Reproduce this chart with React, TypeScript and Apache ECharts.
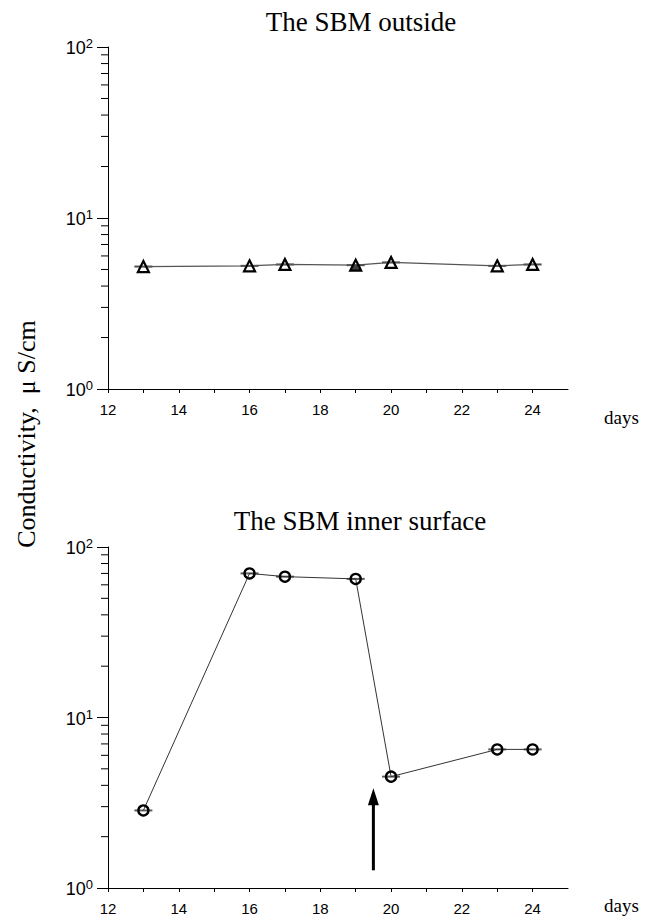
import React, { useEffect, useRef } from 'react';
import * as echarts from 'echarts';

// ---- data ----
const days = [13, 16, 17, 19, 20, 23, 24];
const outsideValues = [5.2, 5.25, 5.35, 5.3, 5.5, 5.25, 5.35];
const innerValues = [2.85, 70, 67, 65, 4.5, 6.5, 6.5];
const outsideExtraSquare = [[19, 5.1]];
const xLabelDays = [12, 14, 16, 18, 20, 22, 24];
const minorTickValues = [2, 3, 4, 5, 6, 7, 8, 9, 20, 30, 40, 50, 60, 70, 80, 90];
const arrowDay = 19.5;
const arrowFrom = 1.27;
const arrowTo = 3.85;
const titleTop = 'The SBM outside';
const titleBottom = 'The SBM inner surface';
const yTitle = 'Conductivity,  \u03BC S/cm';
const xUnit = 'days';

const SANS = '"Liberation Sans", Arial, sans-serif';
const SERIF = '"Liberation Serif", "Times New Roman", serif';

function xAxisOpt(gridIndex: number) {
  return {
    type: 'value',
    gridIndex,
    min: 12,
    max: 25,
    interval: 1,
    axisLine: { show: true, lineStyle: { color: '#000', width: 1 } },
    axisTick: { show: true, length: 4, lineStyle: { color: '#000' } },
    splitLine: { show: false },
    axisLabel: {
      margin: 13,
      color: '#000',
      fontFamily: SANS,
      fontSize: 15,
      showMaxLabel: false,
      formatter: (v: number) => (xLabelDays.indexOf(v) >= 0 ? String(v) : ''),
    },
  };
}

function yAxisOpt(gridIndex: number) {
  return {
    type: 'log',
    logBase: 10,
    gridIndex,
    min: 1,
    max: 100,
    axisLine: { show: true, lineStyle: { color: '#000', width: 1 } },
    axisTick: { show: true, length: 11, lineStyle: { color: '#000' } },
    splitLine: { show: false },
    axisLabel: {
      margin: 15,
      color: '#000',
      formatter: (v: number) => `{b|10}{s|${Math.round(Math.log10(v))}}`,
      rich: {
        b: { fontFamily: SANS, fontSize: 18, color: '#000', lineHeight: 20, verticalAlign: 'bottom' },
        s: { fontFamily: SANS, fontSize: 13, color: '#000', lineHeight: 20, verticalAlign: 'top', padding: [0, 0, 10, 0] },
      },
    },
  };
}

function minorTickSeries(idx: number) {
  return {
    type: 'custom',
    xAxisIndex: idx,
    yAxisIndex: idx,
    silent: true,
    clip: false,
    data: minorTickValues.map((v) => [12, v]),
    encode: { x: 0, y: 1 },
    renderItem: (_p: any, api: any) => {
      const pt = api.coord([api.value(0), api.value(1)]);
      return {
        type: 'line',
        shape: { x1: pt[0] - 7, y1: pt[1], x2: pt[0], y2: pt[1] },
        style: { stroke: '#000', lineWidth: 1 },
      };
    },
  };
}

function barSeries(idx: number, values: number[], color: string) {
  return {
    type: 'scatter',
    xAxisIndex: idx,
    yAxisIndex: idx,
    symbol: 'rect',
    symbolSize: [18, 2],
    itemStyle: { color },
    z: 2,
    silent: true,
    data: days.map((d, i) => [d, values[i]]),
  };
}

export default function App() {
  const ref = useRef<HTMLDivElement>(null);
  useEffect(() => {
    if (!ref.current) return;
    const chart = echarts.init(ref.current, undefined, { renderer: 'svg' });
    chart.setOption({
      animation: false,
      backgroundColor: '#fff',
      grid: [
        { left: 108, top: 47, width: 460, height: 342 },
        { left: 108, top: 547, width: 460, height: 341 },
      ],
      xAxis: [xAxisOpt(0), xAxisOpt(1)],
      yAxis: [yAxisOpt(0), yAxisOpt(1)],
      graphic: [
        { type: 'text', x: 361, y: 22, style: { text: titleTop, font: `27px ${SERIF}`, fill: '#000', align: 'center', verticalAlign: 'middle' } },
        { type: 'text', x: 360, y: 521, style: { text: titleBottom, font: `27px ${SERIF}`, fill: '#000', align: 'center', verticalAlign: 'middle' } },
        { type: 'text', x: 26, y: 434, rotation: Math.PI / 2, style: { text: yTitle, font: `26px ${SERIF}`, fill: '#000', align: 'center', verticalAlign: 'middle' } },
        { type: 'text', x: 604, y: 417, style: { text: xUnit, font: `19px ${SERIF}`, fill: '#000', align: 'left', verticalAlign: 'middle' } },
        { type: 'text', x: 604, y: 905, style: { text: xUnit, font: `19px ${SERIF}`, fill: '#000', align: 'left', verticalAlign: 'middle' } },
      ],
      series: [
        minorTickSeries(0),
        minorTickSeries(1),
        barSeries(0, outsideValues, '#222'),
        barSeries(1, innerValues, '#333'),
        {
          type: 'line',
          xAxisIndex: 0,
          yAxisIndex: 0,
          data: days.map((d, i) => [d, outsideValues[i]]),
          symbol: 'triangle',
          symbolSize: 11,
          showSymbol: true,
          lineStyle: { color: '#555', width: 1.3 },
          itemStyle: { color: 'rgba(0,0,0,0)', borderColor: '#000', borderWidth: 2.2 },
          z: 3,
        },
        {
          type: 'scatter',
          xAxisIndex: 0,
          yAxisIndex: 0,
          data: outsideExtraSquare,
          symbol: 'rect',
          symbolSize: [9, 6],
          itemStyle: { color: '#111' },
          z: 2,
        },
        {
          type: 'line',
          xAxisIndex: 1,
          yAxisIndex: 1,
          data: days.map((d, i) => [d, innerValues[i]]),
          symbol: 'circle',
          symbolSize: 10,
          showSymbol: true,
          lineStyle: { color: '#333', width: 1 },
          itemStyle: { color: 'rgba(0,0,0,0)', borderColor: '#000', borderWidth: 2.4 },
          z: 3,
        },
        {
          type: 'custom',
          xAxisIndex: 1,
          yAxisIndex: 1,
          silent: true,
          clip: false,
          data: [[arrowDay, arrowFrom, arrowTo]],
          encode: { x: 0, y: [1, 2] },
          renderItem: (_p: any, api: any) => {
            const a = api.coord([api.value(0), api.value(1)]);
            const b = api.coord([api.value(0), api.value(2)]);
            const head = 17;
            return {
              type: 'group',
              children: [
                { type: 'line', shape: { x1: a[0], y1: a[1], x2: b[0], y2: b[1] + head - 2 }, style: { stroke: '#000', lineWidth: 3 } },
                { type: 'polygon', shape: { points: [[b[0] - 5.5, b[1] + head], [b[0] + 5.5, b[1] + head], [b[0], b[1]]] }, style: { fill: '#000' } },
              ],
            };
          },
        },
      ],
    });
    return () => chart.dispose();
  }, []);
  return <div ref={ref} style={{ position: 'absolute', left: 0, top: 0, width: 658, height: 918 }} />;
}
